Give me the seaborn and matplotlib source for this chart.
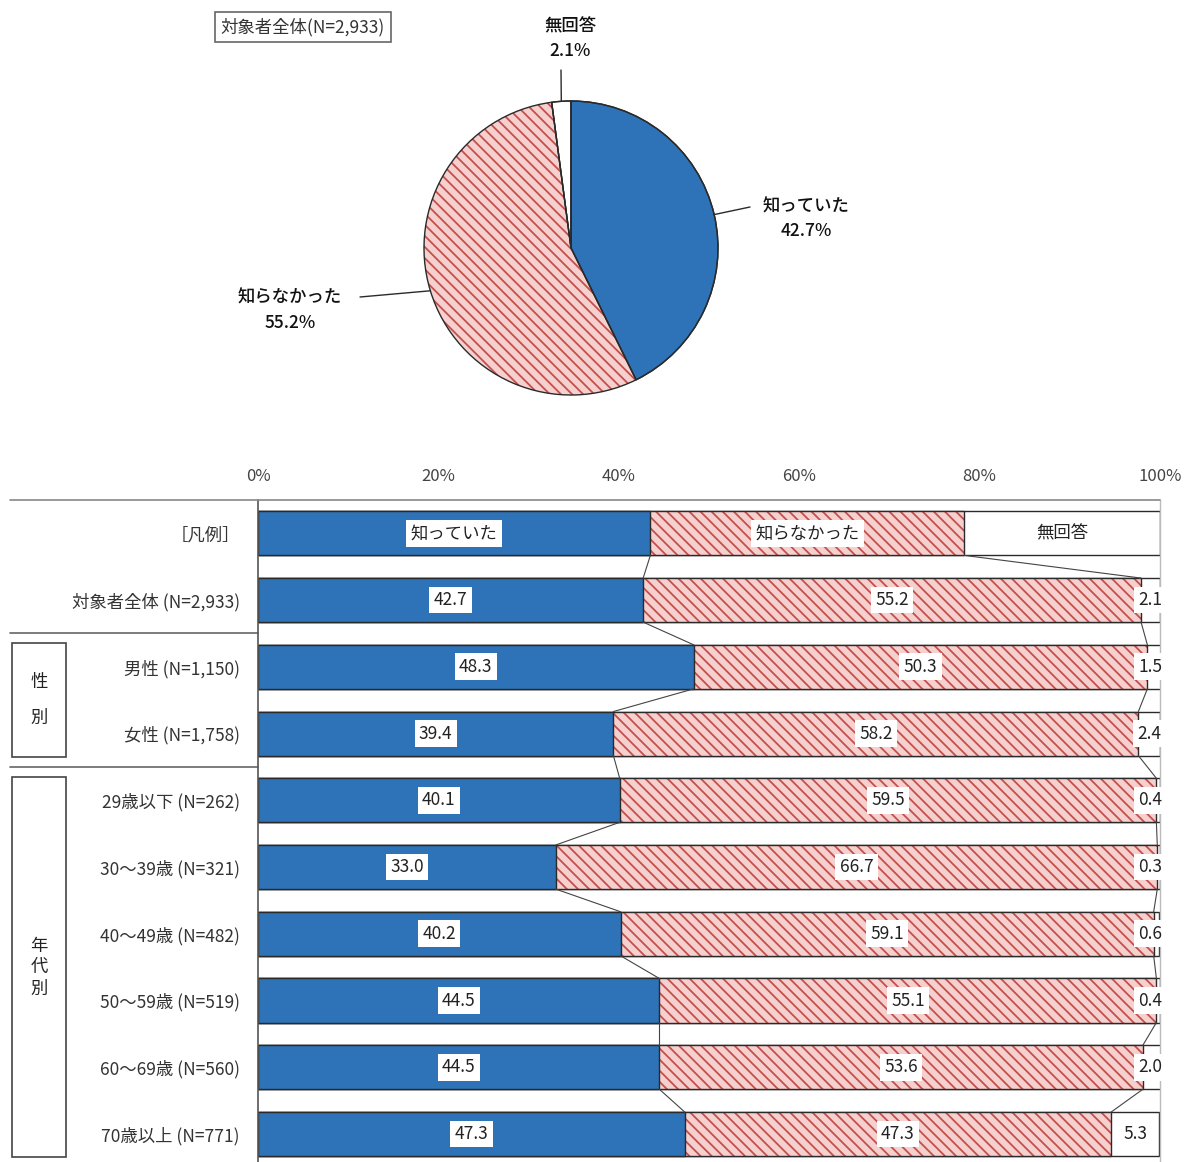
import numpy as np
import pandas as pd
import matplotlib
matplotlib.use("Agg")
import matplotlib.pyplot as plt
import seaborn as sns
from matplotlib.lines import Line2D
from matplotlib.patches import Rectangle, ConnectionPatch
from matplotlib.transforms import blended_transform_factory

sns.set_theme(style="white")
plt.rcParams["font.family"] = ["Noto Sans CJK JP", "DejaVu Sans"]
plt.rcParams["hatch.linewidth"] = 1.3

# ---------------- data ----------------
pie_title = "対象者全体(N=2,933)"
pie_labels = ["知っていた", "知らなかった", "無回答"]
pie_values = [42.7, 55.2, 2.1]

legend_row_label = "［凡例］"
legend_names = ["知っていた", "知らなかった", "無回答"]
legend_widths = [43.5, 34.8, 21.7]

row_labels = ["対象者全体 (N=2,933)", "男性 (N=1,150)", "女性 (N=1,758)",
              "29歳以下 (N=262)", "30～39歳 (N=321)", "40～49歳 (N=482)",
              "50～59歳 (N=519)", "60～69歳 (N=560)", "70歳以上 (N=771)"]
knew = [42.7, 48.3, 39.4, 40.1, 33.0, 40.2, 44.5, 44.5, 47.3]
not_knew = [55.2, 50.3, 58.2, 59.5, 66.7, 59.1, 55.1, 53.6, 47.3]
no_answer = [2.1, 1.5, 2.4, 0.4, 0.3, 0.6, 0.4, 2.0, 5.3]

xtick_values = [0, 20, 40, 60, 80, 100]
xtick_labels = ["0%", "20%", "40%", "60%", "80%", "100%"]

group_names = ["性\n別", "年\n代\n別"]
group_rows = [(2, 3), (4, 9)]
separator_after = [1, 3]

# ---------------- style ----------------
BLUE = "#2E72B7"
PINK = "#F6D0CF"
HATCH_RED = "#C4504C"
EDGE = "#2a2a2a"
W, H = 1191, 1162

fig = plt.figure(figsize=(W / 100, H / 100), dpi=100)
fig.patch.set_facecolor("white")


def fx(px):
    return px / W


def fy(py):
    return 1 - py / H


# ---------------- pie ----------------
ax_pie = fig.add_axes([fx(424), fy(395), 294 / W, 294 / H])
wedges, _ = ax_pie.pie(pie_values, colors=[BLUE, PINK, "white"], startangle=90,
                       counterclock=False,
                       wedgeprops=dict(edgecolor=EDGE, linewidth=1.0))
wedges[1].set_hatch("\\\\\\")
wedges[1].set_edgecolor(HATCH_RED)
wedges[1].set_linewidth(0)
ax_pie.pie(pie_values, colors=["none"] * 3, startangle=90, counterclock=False,
           wedgeprops=dict(edgecolor=EDGE, linewidth=1.0))
ax_pie.set_xlim(-1, 1)
ax_pie.set_ylim(-1, 1)
ax_pie.axis("off")

label_ends = [(750, 207), (360, 297), (561, 70)]
label_centers = [(806, 219), (290, 310), (570, 39)]
for w, lab, val, end, cen in zip(wedges, pie_labels, pie_values, label_ends, label_centers):
    th = np.deg2rad((w.theta1 + w.theta2) / 2)
    con = ConnectionPatch(xyA=(np.cos(th), np.sin(th)), coordsA=ax_pie.transData,
                          xyB=(fx(end[0]), fy(end[1])), coordsB=fig.transFigure,
                          color=EDGE, linewidth=1.0)
    fig.add_artist(con)
    fig.text(fx(cen[0]), fy(cen[1]), f"{lab}\n{val:.1f}%", ha="center", va="center",
             fontsize=12.5, color="#111111", linespacing=1.5, fontweight="medium")

fig.text(fx(303), fy(27), pie_title, ha="center", va="center", fontsize=12.5,
         color="#333333",
         bbox=dict(boxstyle="square,pad=0.35", fc="white", ec="#666666", lw=1.2))

# ---------------- bars ----------------
cats = [legend_row_label] + row_labels
df = pd.DataFrame({
    "row": cats,
    "a": [legend_widths[0]] + knew,
    "b": [legend_widths[1]] + not_knew,
    "c": [legend_widths[2]] + no_answer,
})
df["c1"] = df["a"]
df["c2"] = df["a"] + df["b"]
df["c3"] = df["c2"] + df["c"]

ax = fig.add_axes([fx(258), 0, 902 / W, fy(500)])
BW = 0.66
common = dict(data=df, y="row", order=cats, orient="h", width=BW, errorbar=None,
              saturation=1, ax=ax)
sns.barplot(x="c3", color="white", edgecolor=EDGE, linewidth=1.0, **common)
sns.barplot(x="c2", color=PINK, edgecolor=HATCH_RED, hatch="\\\\\\", linewidth=0, **common)
sns.barplot(x="c2", fill=False, color=EDGE, linewidth=1.0, **common)
sns.barplot(x="c1", color=BLUE, edgecolor=EDGE, linewidth=1.0, **common)

ax.set_xlim(0, 100)
ax.set_ylim(9.42, -0.5)
ax.set_xlabel("")
ax.set_ylabel("")
ax.xaxis.tick_top()
ax.set_xticks(xtick_values)
ax.set_xticklabels(xtick_labels, fontsize=12, color="#444444")
ax.tick_params(axis="x", length=0, pad=11)
ax.tick_params(axis="y", length=0, pad=13, labelsize=12.5, labelcolor="#333333")
for s in ["top", "bottom"]:
    ax.spines[s].set_visible(False)
ax.spines["left"].set_color("#555555")
ax.spines["left"].set_linewidth(1.2)
ax.spines["right"].set_color("#bbbbbb")
ax.spines["right"].set_linewidth(1.0)

# connecting lines between consecutive bars
h = BW / 2
for i in range(len(cats) - 1):
    for col in ["c1", "c2"]:
        ax.plot([df[col][i], df[col][i + 1]], [i + h, i + 1 - h], color="#444444",
                lw=0.8, zorder=5)

# labels
box = dict(boxstyle="square,pad=0.25", fc="white", ec="none")
for j, name in enumerate(legend_names):
    left = [0, df["c1"][0], df["c2"][0]][j]
    ax.text(left + legend_widths[j] / 2, 0, name, ha="center", va="center",
            fontsize=12.5, color="#222222",
            bbox=box if j < 2 else None, zorder=6)
for i in range(1, len(cats)):
    ax.text(df["c1"][i] / 2, i, f"{df['a'][i]:.1f}", ha="center", va="center",
            fontsize=12.5, color="#222222", bbox=box, zorder=6)
    ax.text(df["c1"][i] + df["b"][i] / 2, i, f"{df['b'][i]:.1f}", ha="center",
            va="center", fontsize=12.5, color="#222222", bbox=box, zorder=6)
    xc = min((df["c2"][i] + min(df["c3"][i], 100)) / 2, 98.95)
    ax.text(xc, i, f"{df['c'][i]:.1f}", ha="center", va="center",
            fontsize=12.5, color="#222222", bbox=box, zorder=6)

# frame lines and groups
fig.add_artist(Line2D([fx(10), fx(1160)], [fy(500), fy(500)], color="#888888", lw=1.2))
tr = blended_transform_factory(fig.transFigure, ax.transData)
for r in separator_after:
    ax.add_line(Line2D([fx(10), fx(258)], [r + 0.5, r + 0.5], transform=tr,
                       color="#666666", lw=1.2, clip_on=False))
spacings = [2.3, 1.25]
for name, (r0, r1), ls in zip(group_names, group_rows, spacings):
    y0, y1 = r0 - 0.35, r1 + 0.35
    ax.add_patch(Rectangle((fx(12), y0), fx(66) - fx(12), y1 - y0, transform=tr,
                           fill=False, ec="#444444", lw=1.2, clip_on=False))
    ax.text(fx(39), (y0 + y1) / 2, name, transform=tr, ha="center", va="center",
            fontsize=12.5, color="#222222", linespacing=ls)

fig.savefig("out.png", dpi=100, facecolor="white")
